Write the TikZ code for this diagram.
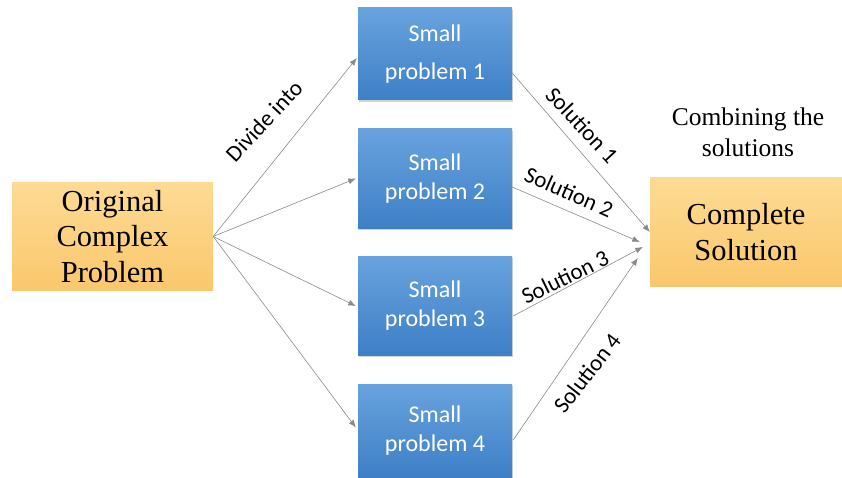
\documentclass[tikz,border=0pt]{standalone}
\usepackage{fontspec}
\setsansfont{Carlito}
\newfontfamily\bookserif{Liberation Serif}
\usetikzlibrary{arrows.meta,shadows,calc}
\newcommand\serifsize[2]{\bookserif\fontsize{#1}{#2}\selectfont}
\definecolor{boxorangetop}{RGB}{253,219,148}
\definecolor{boxorangebot}{RGB}{250,199,108}
\definecolor{boxbluetop}{RGB}{104,163,222}
\definecolor{boxbluebot}{RGB}{62,127,198}
\definecolor{linkgray}{RGB}{138,138,138}
\begin{document}
\begin{tikzpicture}[x=1pt,y=-1pt,
  goldbox/.style={rectangle, inner sep=0pt, align=center,
    top color=boxorangetop, bottom color=boxorangebot,
    font=\serifsize{30.5}{35.5}},
  bluebox/.style={rectangle, inner sep=0pt, align=center,
    minimum width=154pt, text=white,
    top color=boxbluetop, bottom color=boxbluebot,
    drop shadow={shadow xshift=1.2pt, shadow yshift=-1.6pt, opacity=0.35},
    font=\sffamily\fontsize{24}{29}\selectfont},
  link/.style={draw=linkgray, line width=0.6pt,
    -{Latex[length=7.5pt,width=6pt]}},
  linklabel/.style={inner sep=0pt, font=\sffamily\fontsize{23}{27}\selectfont}
]
\useasboundingbox (0,0) rectangle (842,478);

% boxes
\node[goldbox, minimum width=201pt, minimum height=107pt] (orig) at (112.5,236.5)
  {Original\\Complex\\Problem};
\node[bluebox, minimum height=92pt, font=\sffamily\fontsize{24}{38}\selectfont] (sp1) at (435,54)
  {Small\\problem 1};
\node[bluebox, minimum height=99pt] (sp2) at (435,178.5) {Small\\problem 2};
\node[bluebox, minimum height=99pt] (sp3) at (435,305.5) {Small\\problem 3};
\node[bluebox, minimum height=93pt] (sp4) at (435,430.5) {Small\\problem 4};
\node[goldbox, minimum width=192pt, minimum height=108pt] (comp) at (746,232)
  {Complete\\Solution};
\node[align=center, inner sep=0pt, font=\serifsize{25.5}{31}] (combine) at (748,132)
  {Combining the\\solutions};

% dividing the problem
\draw[link] (orig.east) -- ($(sp1.west)+(-1,4)$);
\draw[link] (orig.east) -- ($(sp2.west)+(-2,0)$);
\draw[link] (orig.east) -- ($(sp3.west)+(-2,0.5)$);
\draw[link] (orig.east) -- ($(sp4.west)+(-2,-3)$);
\node[linklabel, rotate=47] (divlbl) at (264,121) {Divide into};

% collecting the solutions
\draw[link] ($(sp1.east)+(0,19)$) -- (comp.west);
\draw[link] ($(sp2.east)+(0,8.5)$) -- ($(comp.west)+(-10,10)$);
\draw[link] ($(sp3.east)+(1,10.5)$) -- ($(comp.west)+(-7,15)$);
\draw[link] ($(sp4.east)+(1,9.5)$) -- ($(comp.west)+(-12,26)$);
\node[linklabel, rotate=-47] (sol1) at (582,125) {Solution 1};
\node[linklabel, rotate=-24] (sol2) at (569,192) {Solution 2};
\node[linklabel, rotate=26] (sol3) at (565,277) {Solution 3};
\node[linklabel, rotate=52] (sol4) at (587,373) {Solution 4};
\end{tikzpicture}
\end{document}
